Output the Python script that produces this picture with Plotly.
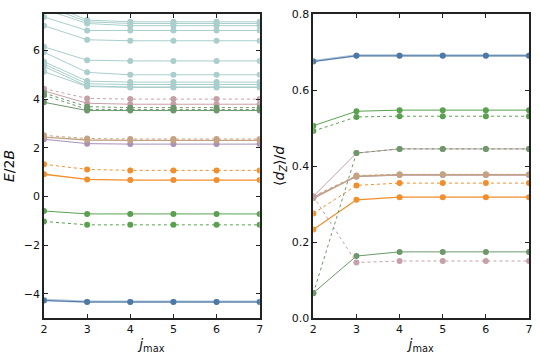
import plotly.graph_objects as go

J = [2, 3, 4, 5, 6, 7]

# energies E/2B, one list per state
E_blue_a = [-4.28, -4.34, -4.34, -4.34, -4.34, -4.34]
E_blue_b = [-4.26, -4.33, -4.33, -4.33, -4.33, -4.33]
E_green_solid = [-0.60, -0.72, -0.72, -0.72, -0.72, -0.72]
E_green_dash = [-1.03, -1.17, -1.17, -1.17, -1.17, -1.17]
E_orange_solid = [0.91, 0.70, 0.67, 0.67, 0.67, 0.67]
E_orange_dash = [1.32, 1.11, 1.07, 1.07, 1.07, 1.07]
E_purple = [2.35, 2.17, 2.15, 2.15, 2.15, 2.15]
E_brown_solid = [2.44, 2.32, 2.30, 2.30, 2.30, 2.30]
E_brown_dash = [2.51, 2.38, 2.36, 2.36, 2.36, 2.36]
E_mauve_dash = [4.43, 4.03, 4.00, 4.00, 4.00, 4.00]
E_mauve_solid = [4.34, 3.83, 3.79, 3.79, 3.79, 3.79]
E_dkgreen_solid = [3.87, 3.53, 3.53, 3.53, 3.53, 3.53]
E_dkgreen_dash = [4.16, 3.58, 3.57, 3.57, 3.57, 3.57]
E_dkgreen_dot = [4.25, 3.69, 3.65, 3.65, 3.65, 3.65]
E_teal = [
    [8.00, 7.25, 7.18, 7.18, 7.18, 7.18],
    [7.85, 7.18, 7.11, 7.11, 7.11, 7.11],
    [7.70, 7.11, 7.02, 7.02, 7.02, 7.02],
    [7.38, 6.82, 6.82, 6.82, 6.82, 6.82],
    [7.02, 6.44, 6.40, 6.40, 6.40, 6.40],
    [6.15, 5.60, 5.57, 5.57, 5.57, 5.57],
    [5.93, 5.10, 5.00, 5.00, 5.00, 5.00],
    [5.54, 4.74, 4.70, 4.70, 4.70, 4.70],
    [5.44, 4.63, 4.60, 4.60, 4.60, 4.60],
    [5.34, 4.54, 4.50, 4.50, 4.50, 4.50],
    [5.13, 4.52, 4.48, 4.48, 4.48, 4.48],
]

# dipole <d_Z>/d
D_blue_a = [0.675, 0.690, 0.690, 0.690, 0.690, 0.690]
D_blue_b = [0.676, 0.691, 0.691, 0.691, 0.691, 0.691]
D_green_solid = [0.506, 0.544, 0.547, 0.547, 0.547, 0.547]
D_green_dash = [0.492, 0.529, 0.531, 0.531, 0.531, 0.531]
D_orange_solid = [0.233, 0.311, 0.318, 0.318, 0.318, 0.318]
D_orange_dash = [0.275, 0.349, 0.355, 0.355, 0.355, 0.355]
D_purple = [0.318, 0.372, 0.376, 0.376, 0.376, 0.376]
D_brown_solid = [0.315, 0.373, 0.377, 0.377, 0.377, 0.377]
D_brown_dash = [0.320, 0.375, 0.378, 0.378, 0.378, 0.378]
D_mauve_dash = [0.320, 0.146, 0.150, 0.150, 0.150, 0.150]
D_mauve_solid = [0.320, 0.434, 0.445, 0.445, 0.445, 0.445]
D_dkgreen_solid = [0.066, 0.163, 0.174, 0.174, 0.174, 0.174]
D_dkgreen_dash = [0.065, 0.434, 0.445, 0.445, 0.445, 0.445]

BLUE = "#4e79a7"
GREEN = "#59a14f"
ORANGE = "#f28e2b"
PURPLE = "#a890b6"
BROWN = "#c4a282"
MAUVE = "#c6a0a8"
DKGREEN = "#6c986c"
TEAL = "#a9cecc"

states = [
    (E_blue_b, D_blue_b, "rgba(78,121,167,0.45)", "solid", 2.5),
    (E_blue_a, D_blue_a, BLUE, "solid", 1),
    (E_green_solid, D_green_solid, GREEN, "solid", 1),
    (E_green_dash, D_green_dash, GREEN, "dot", 1),
    (E_orange_solid, D_orange_solid, ORANGE, "solid", 1.3),
    (E_orange_dash, D_orange_dash, ORANGE, "dot", 1),
    (E_purple, D_purple, PURPLE, "solid", 1),
    (E_brown_solid, D_brown_solid, BROWN, "solid", 1.3),
    (E_brown_dash, D_brown_dash, BROWN, "dot", 1),
    (E_mauve_dash, D_mauve_dash, MAUVE, "dot", 1),
    (E_mauve_solid, D_mauve_solid, MAUVE, "solid", 1),
    (E_dkgreen_solid, D_dkgreen_solid, DKGREEN, "solid", 1),
    (E_dkgreen_dash, D_dkgreen_dash, DKGREEN, "dot", 1),
    (E_dkgreen_dot, None, DKGREEN, "dot", 1),
]

fig = go.Figure()

for e in E_teal:
    fig.add_trace(go.Scatter(
        x=J, y=e, mode="lines+markers", xaxis="x", yaxis="y",
        line=dict(color=TEAL, width=1), marker=dict(color=TEAL, size=6),
        showlegend=False,
    ))

for e, d, color, dash, w in states:
    fig.add_trace(go.Scatter(
        x=J, y=e, mode="lines+markers", xaxis="x", yaxis="y",
        line=dict(color=color, width=w, dash=dash),
        marker=dict(color=color, size=6), showlegend=False,
    ))
    if d is not None:
        fig.add_trace(go.Scatter(
            x=J, y=d, mode="lines+markers", xaxis="x2", yaxis="y2",
            line=dict(color=color, width=w, dash=dash),
            marker=dict(color=color, size=6), showlegend=False,
        ))

ax = dict(
    showline=True, linecolor="#222", linewidth=1.5, mirror="ticks",
    ticks="inside", ticklen=4, tickcolor="#222", showgrid=False,
    zeroline=False, tickfont=dict(size=11, color="#111"),
)

fig.update_layout(
    width=540, height=360,
    margin=dict(l=44, r=8, t=8, b=42),
    plot_bgcolor="white", paper_bgcolor="white",
    font=dict(family="DejaVu Sans, sans-serif", color="#111"),
    xaxis=dict(ax, domain=[0, 0.4447], range=[2, 7], dtick=1,
               title=dict(text="<i>j</i><sub>max</sub>", font=dict(size=14), standoff=4)),
    yaxis=dict(ax, range=[-5, 7.5], tickvals=[-4, -2, 0, 2, 4, 6],
               title=dict(text="<i>E</i>/2<i>B</i>", font=dict(size=14), standoff=6)),
    xaxis2=dict(ax, domain=[0.5553, 1], range=[2, 7], dtick=1, anchor="y2",
                title=dict(text="<i>j</i><sub>max</sub>", font=dict(size=14), standoff=4)),
    yaxis2=dict(ax, range=[0, 0.8], dtick=0.2, tickformat=".1f", anchor="x2",
                title=dict(text="⟨<i>d<sub>Z</sub></i>⟩/<i>d</i>", font=dict(size=14), standoff=4)),
)

# drop the browser's default 8px body margin so the figure fills the window
fig.write_html("out.html", config={"displayModeBar": False},
               post_script="document.body.style.margin='0';")
